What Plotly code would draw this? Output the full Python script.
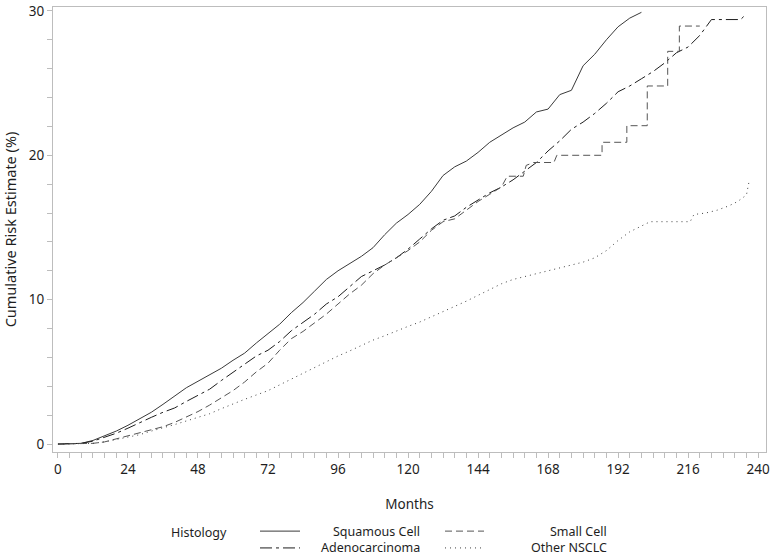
import plotly.graph_objects as go

# ---------------- data ----------------
squamous_months = [0, 8, 12, 16, 20, 24, 28, 32, 36, 40, 44, 48, 52, 56, 60, 64, 68, 72, 76, 80,
                   84, 88, 92, 96, 100, 104, 108, 112, 116, 120, 124, 128, 132, 136, 140, 144,
                   148, 152, 156, 160, 164, 168, 172, 176, 180, 184, 188, 192, 196, 200]
squamous_risk = [0, 0.05, 0.25, 0.55, 0.9, 1.3, 1.75, 2.2, 2.75, 3.3, 3.9, 4.35, 4.8, 5.25, 5.8,
                 6.3, 7.0, 7.65, 8.3, 9.1, 9.8, 10.6, 11.4, 12.0, 12.5, 13.0, 13.6, 14.5, 15.3,
                 15.9, 16.6, 17.5, 18.6, 19.2, 19.6, 20.2, 20.9, 21.4, 21.9, 22.3, 23.0, 23.2,
                 24.2, 24.5, 26.2, 27.0, 28.0, 28.9, 29.5, 29.9]

adeno_months = [0, 8, 12, 16, 20, 24, 28, 32, 36, 40, 44, 48, 52, 56, 60, 64, 68, 72, 76, 80,
                84, 88, 92, 96, 100, 104, 108, 112, 116, 120, 124, 128, 132, 136, 140, 144, 148,
                152, 156, 160, 164, 168, 172, 176, 180, 184, 188, 192, 196, 200, 204, 208, 212,
                216, 220, 224, 234, 235.5]
adeno_risk = [0, 0.05, 0.2, 0.45, 0.75, 1.1, 1.5, 1.85, 2.2, 2.5, 2.95, 3.4, 3.8, 4.4, 4.95,
              5.5, 6.1, 6.5, 7.1, 7.85, 8.4, 9.0, 9.7, 10.2, 10.9, 11.6, 12.0, 12.4, 12.9, 13.5,
              14.2, 14.9, 15.5, 15.8, 16.4, 16.9, 17.4, 17.8, 18.3, 18.9, 19.5, 20.3, 21.0, 21.8,
              22.3, 22.9, 23.6, 24.4, 24.8, 25.3, 25.8, 26.4, 27.1, 27.5, 28.3, 29.4, 29.4, 29.7]

small_months = [0, 12, 16, 20, 24, 28, 32, 36, 40, 44, 48, 52, 56, 60, 64, 68, 72, 76, 80, 84,
                88, 92, 96, 100, 104, 108, 112, 116, 120, 124, 128, 132, 136, 140, 144, 148, 152,
                154, 159.5, 160.5, 163, 170, 171, 186.5, 186.5, 195, 195, 202, 202, 209, 209,
                213, 213, 220]
small_risk = [0, 0.05, 0.15, 0.35, 0.55, 0.75, 0.95, 1.2, 1.5, 1.85, 2.25, 2.7, 3.2, 3.7, 4.3,
              5.0, 5.6, 6.5, 7.3, 7.8, 8.4, 9.0, 9.7, 10.4, 11.0, 11.8, 12.4, 12.9, 13.4, 14.0,
              14.8, 15.4, 15.6, 16.2, 16.8, 17.3, 17.8, 18.55, 18.55, 19.3, 19.5, 19.5, 20.0,
              20.0, 20.9, 20.9, 22.05, 22.05, 24.8, 24.8, 27.2, 27.2, 28.95, 28.95]

other_months = [0, 12, 16, 20, 24, 28, 32, 36, 40, 44, 48, 52, 56, 60, 64, 68, 72, 76, 80, 84,
                88, 92, 96, 100, 104, 108, 112, 116, 120, 124, 128, 132, 136, 140, 144, 148, 152,
                156, 160, 164, 168, 172, 176, 180, 184, 188, 192, 196, 200, 203, 216.7, 218, 222,
                226, 230, 233, 236, 237]
other_risk = [0, 0.05, 0.15, 0.3, 0.45, 0.65, 0.9, 1.1, 1.35, 1.6, 1.85, 2.1, 2.45, 2.8, 3.1,
              3.4, 3.7, 4.1, 4.5, 4.9, 5.3, 5.75, 6.1, 6.45, 6.85, 7.2, 7.5, 7.85, 8.15, 8.45,
              8.8, 9.15, 9.5, 9.9, 10.3, 10.7, 11.1, 11.4, 11.6, 11.8, 12.0, 12.2, 12.4, 12.6,
              12.9, 13.4, 14.1, 14.7, 15.1, 15.4, 15.4, 15.9, 16.0, 16.2, 16.5, 16.8, 17.25, 18.3]

x_ticks = [0, 24, 48, 72, 96, 120, 144, 168, 192, 216, 240]
y_ticks = [0, 10, 20, 30]

series_names = ["Squamous Cell", "Adenocarcinoma", "Small Cell", "Other NSCLC"]

# ---------------- styles ----------------
FONT = "Noto Sans"
FS = 13.5
TXT = "#1e1e1e"
styles = {
    "Squamous Cell": dict(color="#3a3a3a", dash="solid"),
    "Adenocarcinoma": dict(color="#1e1e1e", dash="12px,4px,3px,4px"),
    "Small Cell": dict(color="#555555", dash="7px,4px"),
    "Other NSCLC": dict(color="#404040", dash="1px,4px"),
}
data = {
    "Squamous Cell": (squamous_months, squamous_risk),
    "Adenocarcinoma": (adeno_months, adeno_risk),
    "Small Cell": (small_months, small_risk),
    "Other NSCLC": (other_months, other_risk),
}

fig = go.Figure()
for name in series_names:
    xs, ys = data[name]
    st = styles[name]
    fig.add_trace(go.Scatter(x=xs, y=ys, mode="lines", name=name, showlegend=False,
                             line=dict(color=st["color"], width=1, dash=st["dash"])))

# ---------------- layout ----------------
W, H = 772, 557
L, R, T, B = 53, 6, 2, 105
fig.update_layout(
    width=W, height=H,
    margin=dict(l=L, r=R, t=T, b=B),
    paper_bgcolor="white", plot_bgcolor="white",
    font=dict(family=FONT, size=FS, color=TXT),
    showlegend=False,
)
fig.update_xaxes(
    range=[-1.7, 242.7], tickvals=x_ticks, ticktext=[str(v) for v in x_ticks],
    showgrid=False, zeroline=False, showline=True, linecolor="#bdbdbd", linewidth=1,
    mirror=True, ticks="outside", ticklen=5, tickcolor="#bdbdbd",
    minor=dict(dtick=4, tick0=0, ticks="outside", ticklen=5, tickcolor="#bdbdbd"),
    tickfont=dict(family=FONT, size=FS, color=TXT), ticklabeloverflow="allow",
    title=dict(text="Months", font=dict(family=FONT, size=FS, color=TXT), standoff=22),
)
fig.update_yaxes(
    range=[-0.55, 30.27], tickvals=y_ticks, ticktext=[str(v) for v in y_ticks],
    showgrid=False, zeroline=False, showline=True, linecolor="#bdbdbd", linewidth=1,
    mirror=True, ticks="outside", ticklen=5, tickcolor="#bdbdbd",
    minor=dict(dtick=2, tick0=0, ticks="outside", ticklen=5, tickcolor="#bdbdbd"),
    tickfont=dict(family=FONT, size=FS, color=TXT), ticklabeloverflow="allow",
    title=dict(text="Cumulative Risk Estimate (%)", font=dict(family=FONT, size=14.5, color=TXT),
               standoff=10),
)

# ---------------- custom legend (SAS style) ----------------
PW = W - L - R
PH = H - T - B


def px_x(px):
    return (px - L) / PW


def px_y(py):
    return (H - B - py) / PH


LFS = 12.5
fig.add_annotation(text="Histology", xref="paper", yref="paper", x=px_x(170), y=px_y(533),
                   xanchor="left", yanchor="middle", showarrow=False, borderpad=0,
                   font=dict(family=FONT, size=LFS, color=TXT))
legend_slots = [
    ("Squamous Cell", 260, 300, 421, 532),
    ("Small Cell", 445, 484, 608, 532),
    ("Adenocarcinoma", 260, 300, 421, 549),
    ("Other NSCLC", 445, 484, 608, 549),
]
for name, sx0, sx1, tx, ty in legend_slots:
    st = styles[name]
    fig.add_shape(type="line", xref="paper", yref="paper", x0=px_x(sx0), x1=px_x(sx1),
                  y0=px_y(ty), y1=px_y(ty),
                  line=dict(color=st["color"], width=1, dash=st["dash"]))
    fig.add_annotation(text=name, xref="paper", yref="paper", x=px_x(tx), y=px_y(ty),
                       xanchor="right", yanchor="middle", showarrow=False,
                       font=dict(family=FONT, size=LFS, color=TXT),
                       borderpad=0)

fig.write_html("out.html")
